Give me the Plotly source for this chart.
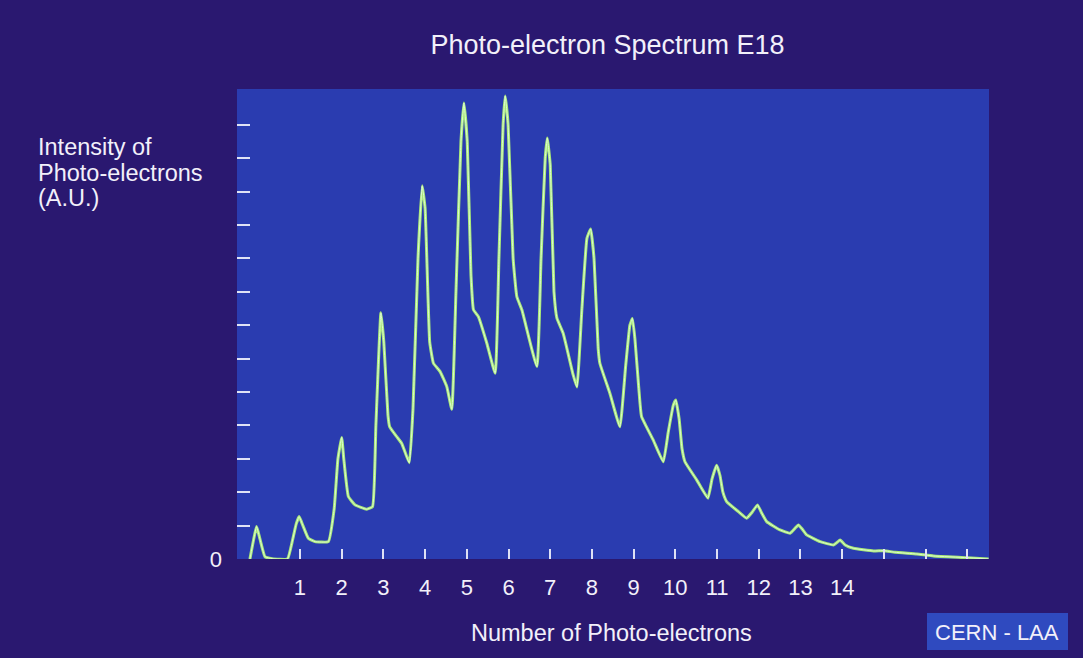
import plotly.graph_objects as go

# Trace of the photo-electron spectrum (x: number of photo-electrons, y: intensity in tick units)
x_vals = [-0.20, -0.04, 0.04, 0.16, 0.33, 0.70, 0.81, 0.91, 0.98, 1.07, 1.20, 1.36, 1.68,
          1.82, 1.91, 2.00, 2.05, 2.16, 2.32, 2.60, 2.74, 2.82, 2.94, 3.01, 3.11, 3.15,
          3.32, 3.44, 3.62, 3.71, 3.83, 3.93, 4.00, 4.11, 4.20, 4.36, 4.52, 4.64, 4.74,
          4.86, 4.93, 5.01, 5.10, 5.16, 5.28, 5.48, 5.68, 5.77, 5.87, 5.92, 5.99, 6.11,
          6.20, 6.32, 6.68, 6.78, 6.88, 6.93, 7.00, 7.09, 7.16, 7.31, 7.55, 7.64, 7.76,
          7.88, 7.97, 8.05, 8.15, 8.19, 8.43, 8.67, 8.81, 8.91, 8.97, 9.03, 9.13, 9.19,
          9.47, 9.71, 9.83, 9.95, 10.01, 10.09, 10.16, 10.23, 10.51, 10.78, 10.88, 10.99,
          11.07, 11.14, 11.23, 11.51, 11.71, 11.84, 11.97, 12.06, 12.19, 12.51, 12.75,
          12.87, 12.95, 13.04, 13.15, 13.47, 13.79, 13.88, 13.95, 14.07, 14.27, 14.75,
          15.00, 15.27, 15.79, 16.19, 16.99, 17.51]
y_vals = [0.0, 0.97, 0.6, 0.07, 0.01, 0.0, 0.5, 1.05, 1.27, 1.0, 0.62, 0.52, 0.52,
          1.5, 3.0, 3.64, 3.0, 1.87, 1.62, 1.49, 1.57, 4.0, 7.37, 6.5, 4.3, 3.96,
          3.66, 3.46, 2.88, 4.5, 9.0, 11.17, 10.5, 6.5, 5.86, 5.61, 5.16, 4.48, 8.0,
          12.5, 13.65, 12.5, 8.5, 7.46, 7.25, 6.46, 5.56, 9.0, 13.0, 13.86, 13.0, 9.0,
          7.85, 7.46, 5.76, 9.0, 12.0, 12.6, 11.8, 8.0, 7.21, 6.76, 5.51, 5.15, 7.5,
          9.6, 9.88, 9.0, 6.3, 5.86, 4.96, 3.96, 5.8, 7.0, 7.2, 6.6, 5.0, 4.26,
          3.56, 2.91, 3.8, 4.6, 4.76, 4.2, 3.3, 2.91, 2.37, 1.82, 2.4, 2.81,
          2.5, 2.0, 1.72, 1.42, 1.22, 1.4, 1.62, 1.4, 1.12, 0.87, 0.77,
          0.92, 1.02, 0.9, 0.72, 0.52, 0.42, 0.5, 0.57, 0.42, 0.32, 0.24,
          0.25, 0.2, 0.15, 0.09, 0.04, 0.0]

x_tick_vals = list(range(1, 18))
x_tick_text = [str(i) for i in range(1, 15)] + ["", "", ""]
y_minor_ticks = list(range(1, 14))
y_label_lines = ["Intensity of", "Photo-electrons", "(A.U.)"]

PAPER = "#2a1870"
PLOT = "#2a3cb0"
LINE_OUT = "#a8e878"
LINE_IN = "#dcfbd0"
TXT = "#f2f0fa"
FONT = "Liberation Sans, Arial, sans-serif"

fig = go.Figure()
fig.add_trace(go.Scatter(x=x_vals, y=y_vals, mode="lines",
                         line=dict(color=LINE_OUT, width=3, shape="spline", smoothing=0.35),
                         hoverinfo="skip", showlegend=False))
fig.add_trace(go.Scatter(x=x_vals, y=y_vals, mode="lines",
                         line=dict(color=LINE_IN, width=1, shape="spline", smoothing=0.35),
                         hoverinfo="skip", showlegend=False))

L, R, T, B = 237, 94, 89, 99
W, H = 1083, 658
pw, ph = W - L - R, H - T - B

def px(xp):
    return (xp - L) / pw

def py(yp):
    return (H - B - yp) / ph

fig.update_layout(
    width=W, height=H,
    margin=dict(l=L, r=R, t=T, b=B, pad=0),
    paper_bgcolor=PAPER, plot_bgcolor=PLOT,
    font=dict(family=FONT, color=TXT),
    title=dict(text="Photo-electron Spectrum E18", x=607.5 / W, xanchor="center",
               y=1 - 45 / H, yanchor="middle", yref="container",
               font=dict(size=27, color=TXT, family=FONT)),
    xaxis=dict(range=[-0.51, 17.52], showgrid=False, zeroline=False, showline=False,
               tickmode="array", tickvals=x_tick_vals, ticktext=x_tick_text,
               ticks="inside", ticklen=10, tickwidth=2, tickcolor="#dfe2f5",
               ticklabelstandoff=13, tickfont=dict(size=22, color=TXT, family=FONT)),
    yaxis=dict(range=[0, 14.07], showgrid=False, zeroline=False, showline=False,
               tickmode="array", tickvals=[0], ticktext=["0"], ticks="",
               ticklabelstandoff=14, tickfont=dict(size=22, color=TXT, family=FONT),
               minor=dict(tickmode="array", tickvals=y_minor_ticks, ticks="inside",
                          ticklen=13, tickwidth=2, tickcolor="#dfe2f5", showgrid=False)),
)

for text, yc in zip(y_label_lines, [147, 173, 198]):
    fig.add_annotation(text=text, xref="paper", yref="paper",
                       x=px(36), y=py(yc), xanchor="left", yanchor="middle", align="left",
                       showarrow=False, font=dict(size=23.5, color=TXT, family=FONT))
fig.add_annotation(text="Number of Photo-electrons", xref="paper", yref="paper",
                   x=px(611), y=py(633), xanchor="center", yanchor="middle",
                   showarrow=False, font=dict(size=23.5, color=TXT, family=FONT))
fig.add_shape(type="rect", xref="paper", yref="paper", x0=px(927), x1=px(1068),
              y0=py(650), y1=py(613), fillcolor="#2f4abf", line=dict(width=0), layer="below")
fig.add_annotation(text="CERN - LAA", xref="paper", yref="paper",
                   x=px(997), y=py(632), xanchor="center", yanchor="middle",
                   showarrow=False, font=dict(size=22, color=TXT, family=FONT))

fig.write_html("out.html")
